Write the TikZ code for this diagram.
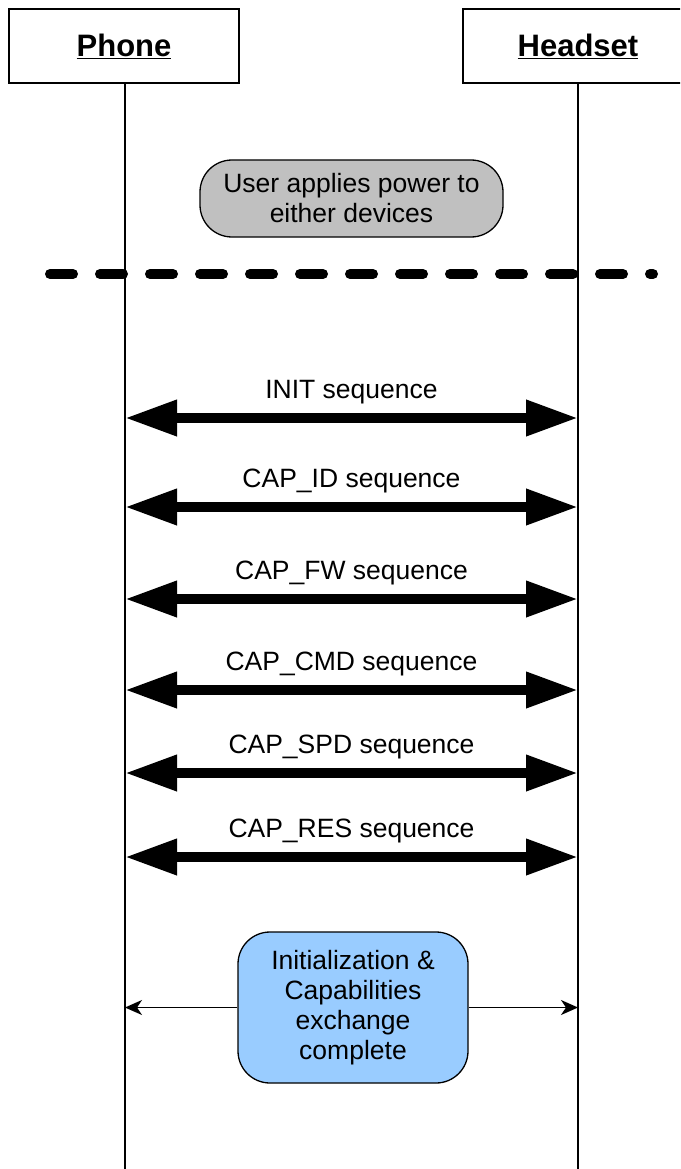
\documentclass[tikz,border=0pt]{standalone}
\usepackage{fontspec}
\setmainfont{Liberation Sans}
\usetikzlibrary{arrows.meta}
\definecolor{notegray}{HTML}{C0C0C0}
\definecolor{noteblue}{HTML}{99CCFF}
\begin{document}
\begin{tikzpicture}[x=1pt,y=-1pt,
  txt/.style={font=\fontsize{26.5}{30}\selectfont},
  actor/.style={draw, line width=1.3pt, fill=white, minimum width=230pt,
    minimum height=74pt, inner sep=0pt, font=\fontsize{31}{34}\selectfont\bfseries},
  lifeline/.style={line width=1.5pt},
  seqmsg/.style={line width=10pt,
    {Triangle[length=52pt,width=34pt]}-{Triangle[length=52pt,width=34pt]}},
  seqlabel/.style={txt, anchor=base, inner sep=0pt},
  note/.style={draw, line width=1.3pt, rounded corners=32pt, align=center, txt, inner sep=0pt},
  thinmsg/.style={line width=1.5pt, -{Stealth[length=17pt,width=15pt,inset=5pt]}},
  divider/.style={line width=10pt, line cap=round, dash pattern=on 23pt off 27pt}
]
\useasboundingbox (0,0) rectangle (680,1169);
\clip (0,0) rectangle (680,1169);

% actors and their lifelines
\node[actor] (phone) at (124,46) {\underline{Phone}};
\node[actor] (headset) at (578,46) {\underline{Headset}};
\coordinate (phoneEnd) at (125,1169);
\coordinate (headsetEnd) at (578,1169);
\draw[lifeline] (phone.south -| phoneEnd) -- (phoneEnd);
\draw[lifeline] (headset.south -| headsetEnd) -- (headsetEnd);

% power-on note and divider
\node[note, fill=notegray, minimum width=303pt, minimum height=77pt] (power) at (351.5,198.5)
  {User applies power to\\either devices};
\coordinate (divL) at (50,274);
\coordinate (divR) at (653,274);
\draw[divider] (divL) -- (divR);

% message exchanges
\foreach \y/\name/\lab in {418/init/INIT sequence, 507/capid/CAP\_ID sequence,
    599/capfw/CAP\_FW sequence, 690/capcmd/CAP\_CMD sequence,
    773/capspd/CAP\_SPD sequence, 857/capres/CAP\_RES sequence}{
  \coordinate (\name L) at (phoneEnd |- 0,\y);
  \coordinate (\name R) at (headsetEnd |- 0,\y);
  \draw[seqmsg] (\name L) -- (\name R);
  \node[seqlabel] (\name T) at (351.5,\y-20) {\lab};
}

% completion note
\node[note, fill=noteblue, minimum width=230pt, minimum height=151pt] (done) at (353,1007.5)
  {Initialization \&\\Capabilities\\exchange\\complete};
\coordinate (doneL) at (phoneEnd |- done.west);
\coordinate (doneR) at (headsetEnd |- done.east);
\draw[thinmsg] (done.west) -- (doneL);
\draw[thinmsg] (done.east) -- (doneR);
\end{tikzpicture}
\end{document}
